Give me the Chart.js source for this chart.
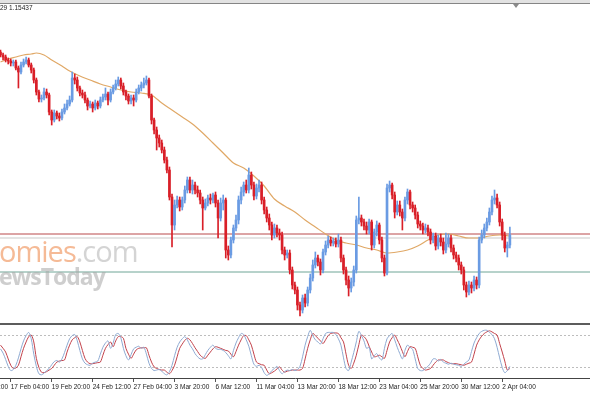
<!DOCTYPE html>
<html lang="en">
<head>
  <meta charset="UTF-8">
  <title>H4 chart with Stochastic</title>
  <script src="https://cdn.jsdelivr.net/npm/chart.js"></script>
  <style>
    body {
      margin: 0;
      width: 590px;
      height: 393px;
      overflow: hidden;
      background: #fff;
      position: relative;
      font-family: 'Liberation Sans Narrow', 'Liberation Sans', sans-serif;
    }
    #main-wrap { position: absolute; left: 0; top: 0; width: 590px; height: 323px; }
    #stoch-wrap { position: absolute; left: 0; top: 325px; width: 590px; height: 68px; }
    #sep { position: absolute; left: 0; top: 323px; width: 590px; height: 2px; background: #5c5c5c; }
    #topbar { position: absolute; left: 0; top: 0; width: 590px; height: 3px; background: #e2e2e2; border-bottom: 1px solid #858585; }
    #shift {
      position: absolute; left: 513px; top: 4px; width: 0; height: 0;
      border-left: 3px solid transparent; border-right: 3px solid transparent; border-top: 4px solid #8a8a8a;
    }
    #readout { position: absolute; left: 0; top: 4px; font-size: 6.5px; color: #222; }
    .wm { position: absolute; left: -1px; line-height: 1; white-space: nowrap; font-family: 'Open Sans', sans-serif; }
    #wm1 { top: 236px; font-size: 29px; letter-spacing: -1px; }
    #wm1 .o { color: rgba(238, 140, 80, 0.6); }
    #wm1 .g { color: rgba(170, 170, 170, 0.5); }
    #wm2 { top: 265px; font-size: 23px; font-weight: bold; letter-spacing: -1px; color: rgba(165, 165, 165, 0.55); }
  </style>
</head>
<body>
  <div id="main-wrap"><canvas id="mainChart"></canvas></div>
  <div id="sep"></div>
  <div id="stoch-wrap"><canvas id="stochChart"></canvas></div>
  <div id="topbar"></div>
  <div id="shift"></div>
  <div id="readout">29 1.15437</div>
  <div class="wm" id="wm1"><span class="o">omies</span><span class="g">.com</span></div>
  <div class="wm" id="wm2">ewsToday</div>

  <script>
    // H4 candles (oldest first)
    const openP = [
      1.1728,1.1725,1.1723,1.1720,1.1719,1.1717,1.1718,1.1712,1.1708,1.1715,
      1.1718,1.1720,1.1715,1.1710,1.1700,1.1688,1.1681,1.1682,1.1688,1.1685,
      1.1668,1.1660,1.1667,1.1664,1.1662,1.1668,1.1672,1.1676,1.1680,1.1702,
      1.1700,1.1692,1.1687,1.1685,1.1680,1.1674,1.1676,1.1672,1.1677,1.1674,
      1.1680,1.1683,1.1686,1.1680,1.1688,1.1692,1.1696,1.1700,1.1694,1.1688,
      1.1684,1.1679,1.1682,1.1680,1.1688,1.1692,1.1695,1.1697,1.1700,1.1684,
      1.1660,1.1650,1.1642,1.1637,1.1630,1.1620,1.1610,1.1583,1.1555,1.1575,
      1.1580,1.1573,1.1580,1.1590,1.1600,1.1590,1.1595,1.1590,1.1587,1.1580,
      1.1572,1.1577,1.1582,1.1580,1.1585,1.1577,1.1562,1.1577,1.1580,1.1530,
      1.1525,1.1540,1.1552,1.1560,1.1580,1.1588,1.1595,1.1590,1.1605,1.1595,
      1.1584,1.1592,1.1595,1.1580,1.1570,1.1562,1.1555,1.1545,1.1552,1.1547,
      1.1545,1.1530,1.1525,1.1527,1.1510,1.1495,1.1490,1.1475,1.1470,1.1482,
      1.1477,1.1490,1.1502,1.1515,1.1522,1.1518,1.1510,1.1528,1.1535,1.1540,
      1.1537,1.1539,1.1536,1.1540,1.1522,1.1510,1.1500,1.1492,1.1498,1.1510,
      1.1560,1.1562,1.1558,1.1554,1.1550,1.1558,1.1535,1.1548,1.1555,1.1540,
      1.1522,1.1507,1.1592,1.1595,1.1585,1.1568,1.1575,1.1568,1.1562,1.1580,
      1.1588,1.1575,1.1572,1.1565,1.1556,1.1554,1.1550,1.1552,1.1548,1.1540,
      1.1544,1.1534,1.1542,1.1538,1.1530,1.1536,1.1542,1.1532,1.1525,1.1522,
      1.1515,1.1510,1.1495,1.1488,1.1495,1.1492,1.1500,1.1495,1.1540,1.1545,
      1.1552,1.1558,1.1568,1.1580,1.1582,1.1575,1.1558,1.1545,1.1532,1.1535
    ];
    const highP = [
      1.1730,1.1727,1.1725,1.1722,1.1721,1.1720,1.1720,1.1714,1.1718,1.1721,
      1.1723,1.1722,1.1717,1.1712,1.1702,1.1690,1.1685,1.1692,1.1691,1.1687,
      1.1670,1.1670,1.1669,1.1667,1.1671,1.1676,1.1680,1.1684,1.1708,1.1706,
      1.1703,1.1694,1.1690,1.1688,1.1682,1.1679,1.1678,1.1680,1.1679,1.1683,
      1.1686,1.1692,1.1688,1.1691,1.1695,1.1700,1.1703,1.1702,1.1697,1.1690,
      1.1686,1.1685,1.1685,1.1691,1.1695,1.1698,1.1702,1.1704,1.1702,1.1686,
      1.1662,1.1653,1.1645,1.1640,1.1633,1.1623,1.1613,1.1586,1.1580,1.1584,
      1.1583,1.1583,1.1594,1.1603,1.1603,1.1600,1.1598,1.1594,1.1590,1.1583,
      1.1581,1.1585,1.1586,1.1587,1.1588,1.1580,1.1582,1.1585,1.1582,1.1534,
      1.1543,1.1555,1.1565,1.1584,1.1593,1.1598,1.1600,1.1612,1.1608,1.1598,
      1.1596,1.1600,1.1598,1.1583,1.1573,1.1566,1.1558,1.1556,1.1555,1.1551,
      1.1548,1.1533,1.1530,1.1530,1.1513,1.1498,1.1493,1.1478,1.1485,1.1486,
      1.1493,1.1506,1.1520,1.1528,1.1525,1.1521,1.1531,1.1539,1.1544,1.1543,
      1.1542,1.1542,1.1546,1.1543,1.1525,1.1513,1.1504,1.1502,1.1514,1.1564,
      1.1583,1.1565,1.1561,1.1558,1.1561,1.1560,1.1551,1.1559,1.1557,1.1543,
      1.1525,1.1596,1.1599,1.1597,1.1588,1.1579,1.1579,1.1571,1.1583,1.1591,
      1.1590,1.1578,1.1575,1.1568,1.1559,1.1557,1.1556,1.1555,1.1551,1.1547,
      1.1547,1.1545,1.1546,1.1542,1.1547,1.1546,1.1545,1.1535,1.1528,1.1525,
      1.1518,1.1513,1.1498,1.1499,1.1498,1.1504,1.1503,1.1543,1.1550,1.1556,
      1.1562,1.1572,1.1584,1.1590,1.1586,1.1578,1.1561,1.1548,1.1538,1.1553
    ];
    const lowP = [
      1.1723,1.1720,1.1718,1.1716,1.1714,1.1714,1.1710,1.1692,1.1706,1.1713,
      1.1716,1.1713,1.1707,1.1697,1.1685,1.1678,1.1678,1.1680,1.1682,1.1665,
      1.1655,1.1658,1.1661,1.1659,1.1660,1.1666,1.1670,1.1674,1.1678,1.1696,
      1.1689,1.1684,1.1682,1.1677,1.1670,1.1672,1.1668,1.1670,1.1671,1.1672,
      1.1678,1.1680,1.1675,1.1678,1.1686,1.1690,1.1694,1.1691,1.1685,1.1680,
      1.1676,1.1676,1.1674,1.1678,1.1686,1.1689,1.1692,1.1695,1.1682,1.1656,
      1.1646,1.1630,1.1633,1.1627,1.1617,1.1607,1.1580,1.1533,1.1550,1.1572,
      1.1569,1.1570,1.1577,1.1587,1.1587,1.1586,1.1586,1.1583,1.1576,1.1550,
      1.1570,1.1574,1.1576,1.1577,1.1573,1.1542,1.1559,1.1570,1.1522,1.1520,
      1.1522,1.1537,1.1549,1.1556,1.1576,1.1584,1.1587,1.1587,1.1591,1.1580,
      1.1581,1.1588,1.1576,1.1566,1.1558,1.1550,1.1540,1.1542,1.1543,1.1540,
      1.1526,1.1520,1.1522,1.1506,1.1491,1.1486,1.1470,1.1464,1.1467,1.1473,
      1.1474,1.1487,1.1499,1.1512,1.1514,1.1505,1.1507,1.1525,1.1532,1.1534,
      1.1534,1.1533,1.1533,1.1518,1.1506,1.1495,1.1484,1.1488,1.1494,1.1507,
      1.1556,1.1554,1.1550,1.1546,1.1546,1.1530,1.1532,1.1544,1.1536,1.1518,
      1.1504,1.1505,1.1588,1.1581,1.1562,1.1565,1.1564,1.1550,1.1559,1.1576,
      1.1571,1.1568,1.1561,1.1552,1.1550,1.1546,1.1547,1.1544,1.1536,1.1537,
      1.1530,1.1531,1.1534,1.1526,1.1527,1.1533,1.1528,1.1521,1.1518,1.1510,
      1.1506,1.1490,1.1483,1.1485,1.1487,1.1489,1.1491,1.1492,1.1537,1.1542,
      1.1549,1.1555,1.1565,1.1576,1.1572,1.1554,1.1540,1.1528,1.1523,1.1532
    ];
    const closeP = [
      1.1725,1.1723,1.1720,1.1719,1.1717,1.1718,1.1712,1.1708,1.1715,1.1718,
      1.1720,1.1715,1.1710,1.1700,1.1688,1.1681,1.1682,1.1688,1.1685,1.1668,
      1.1660,1.1667,1.1664,1.1662,1.1668,1.1672,1.1676,1.1680,1.1702,1.1700,
      1.1692,1.1687,1.1685,1.1680,1.1674,1.1676,1.1672,1.1677,1.1674,1.1680,
      1.1683,1.1686,1.1680,1.1688,1.1692,1.1696,1.1700,1.1694,1.1688,1.1684,
      1.1679,1.1682,1.1680,1.1688,1.1692,1.1695,1.1697,1.1700,1.1684,1.1660,
      1.1650,1.1642,1.1637,1.1630,1.1620,1.1610,1.1583,1.1555,1.1575,1.1580,
      1.1573,1.1580,1.1590,1.1600,1.1590,1.1595,1.1590,1.1587,1.1580,1.1572,
      1.1577,1.1582,1.1580,1.1585,1.1577,1.1562,1.1577,1.1580,1.1530,1.1525,
      1.1540,1.1552,1.1560,1.1580,1.1588,1.1595,1.1590,1.1605,1.1595,1.1584,
      1.1592,1.1595,1.1580,1.1570,1.1562,1.1555,1.1545,1.1552,1.1547,1.1545,
      1.1530,1.1525,1.1527,1.1510,1.1495,1.1490,1.1475,1.1470,1.1482,1.1477,
      1.1490,1.1502,1.1515,1.1522,1.1518,1.1510,1.1528,1.1535,1.1540,1.1537,
      1.1539,1.1536,1.1540,1.1522,1.1510,1.1500,1.1492,1.1498,1.1510,1.1560,
      1.1562,1.1558,1.1554,1.1550,1.1558,1.1535,1.1548,1.1555,1.1540,1.1522,
      1.1507,1.1592,1.1595,1.1585,1.1568,1.1575,1.1568,1.1562,1.1580,1.1588,
      1.1575,1.1572,1.1565,1.1556,1.1554,1.1550,1.1552,1.1548,1.1540,1.1544,
      1.1534,1.1542,1.1538,1.1530,1.1536,1.1542,1.1532,1.1525,1.1522,1.1515,
      1.1510,1.1495,1.1488,1.1495,1.1492,1.1500,1.1495,1.1540,1.1545,1.1552,
      1.1558,1.1568,1.1580,1.1582,1.1575,1.1558,1.1545,1.1532,1.1535,1.1545
    ];

    // moving average, read at a few bars
    const maBars = [0,3,6,9,12,14,17,20,24,27,31,35,39,43,47,51,55,59,63,67,71,75,79,83,87,91,95,99,
      103,107,111,115,119,123,127,131,135,139,143,147,151,155,159,163,167,171,175,179,183,187,191,195,199];
    const maValues = [1.1718,1.1721,1.1723,1.1725,1.1726,1.1727,1.1725,1.1720,1.1714,1.1709,1.1704,1.1700,
      1.1696,1.1693,1.1690,1.1688,1.1687,1.1685,1.1677,1.1670,1.1663,1.1656,1.1647,1.1637,1.1627,1.1617,
      1.1612,1.1604,1.1594,1.1581,1.1574,1.1568,1.1560,1.1553,1.1546,1.1540,1.1537,1.1535,1.1532,1.1530,
      1.1527,1.1528,1.1530,1.1534,1.1540,1.1545,1.1546,1.1544,1.1542,1.1542,1.1544,1.1545,1.1544];

    // horizontal lines: resistance, bid, support
    const hLevels = [1.1546, 1.1542, 1.1508];

    // stochastic oscillator
    const stochMain = [
      55,47,35,22,14,16,24,38,55,70, 80,86,74,45,22,8,6,9,14,18,
      25,31,33,30,36,48,62,74,80,82, 70,52,36,28,25,24,28,30,32,45,
      58,66,70,56,66,82,84,76,56,42, 34,44,55,58,60,56,58,45,28,18,
      14,15,16,13,8,6,12,24,42,58, 68,74,78,72,62,55,46,40,36,36,
      44,52,58,62,56,54,54,52,48,42, 36,52,66,76,84,82,72,60,42,26,
      22,24,20,10,5,8,14,18,22,14, 8,12,15,14,16,14,16,22,40,62,
      78,90,80,72,68,64,74,84,86,86, 86,82,74,62,38,18,14,30,48,68,
      88,80,70,56,58,36,42,46,38,34, 56,74,80,84,72,58,46,36,52,62,
      58,54,36,18,14,14,18,22,28,36, 36,32,35,30,28,26,28,26,25,24,
      22,26,30,34,50,66,76,84,88,90, 90,86,82,74,58,38,20,10,14,22
    ];
    const stochSignal = [
      62,56,49,36,24,18,19,24,40,56, 68,78,81,68,37,20,11,10,12,15,
      18,24,30,32,33,34,49,62,72,76, 78,68,52,37,30,27,27,28,29,30,
      43,56,63,68,59,70,78,78,75,56, 45,37,45,53,56,57,57,57,43,30,
      21,18,16,15,15,11,8,14,24,40, 56,64,71,75,72,65,57,50,43,39,
      37,43,49,55,59,58,56,54,52,51, 45,40,50,62,72,80,80,72,62,45,
      30,27,25,24,15,8,10,13,17,21, 15,11,13,14,15,15,15,15,18,36,
      56,72,84,80,75,70,65,72,80,84, 85,85,84,76,68,45,24,18,28,43,
      63,81,78,72,60,49,40,41,43,40, 37,52,68,76,81,72,62,50,40,50,
      59,58,56,40,24,18,15,16,18,24, 30,34,34,34,31,29,27,27,27,26,
      25,24,26,28,30,45,62,72,79,84, 87,89,87,84,81,65,49,32,15,18
    ];
    const stochLevels = [20, 80];

    // time axis labels and the bar each one sits on
    const tickBars = [-12, 4, 20, 36, 52, 68, 84, 100, 116, 132, 148, 164, 180, 196];
    const tickLabels = ['12 Feb 12:00', '17 Feb 04:00', '19 Feb 20:00', '24 Feb 12:00', '27 Feb 04:00',
      '3 Mar 20:00', '6 Mar 12:00', '11 Mar 04:00', '13 Mar 20:00', '18 Mar 12:00', '23 Mar 04:00',
      '25 Mar 20:00', '30 Mar 12:00', '2 Apr 04:00'];

    const X_MIN = -0.2;
    const X_MAX = 230.3;
    const BULL = '#6a9be3';
    const BEAR = '#d91f28';

    const candleColors = closeP.map((c, i) => c >= openP[i] ? BULL : BEAR);
    const wickData = closeP.map((c, i) => ({ x: i, y: [lowP[i], highP[i]] }));
    const bodyData = closeP.map((c, i) => ({ x: i, y: [openP[i], c] }));
    const maData = maBars.map((b, i) => ({ x: b, y: maValues[i] }));

    function levelLine(v, color) {
      return {
        type: 'line',
        data: [{ x: X_MIN, y: v }, { x: X_MAX, y: v }],
        borderColor: color,
        borderWidth: 1,
        pointRadius: 0,
        order: 5
      };
    }

    // no label padding at the sides, the plot fills the whole width
    function noSidePadding(s) {
      s.paddingLeft = 0;
      s.paddingRight = 0;
    }

    new Chart(document.getElementById('mainChart'), {
      type: 'bar',
      data: {
        datasets: [
          levelLine(hLevels[0], '#b9484a'),
          levelLine(hLevels[1], '#c9c9c9'),
          levelLine(hLevels[2], '#6fa596'),
          {
            type: 'line',
            data: maData,
            borderColor: '#e0a866',
            borderWidth: 1.2,
            pointRadius: 0,
            cubicInterpolationMode: 'monotone',
            order: 4
          },
          {
            data: wickData,
            backgroundColor: candleColors,
            barThickness: 1,
            grouped: false,
            order: 2
          },
          {
            data: bodyData,
            backgroundColor: candleColors,
            barThickness: 2,
            minBarLength: 1,
            grouped: false,
            order: 1
          }
        ]
      },
      options: {
        animation: false,
        responsive: true,
        maintainAspectRatio: false,
        layout: { padding: 0 },
        plugins: { legend: { display: false }, tooltip: { enabled: false } },
        scales: {
          x: { type: 'linear', min: X_MIN, max: X_MAX, offset: false, display: false },
          y: { min: 1.1457, max: 1.1780, display: false }
        }
      }
    });

    const stochX = closeP.map((c, i) => i);

    new Chart(document.getElementById('stochChart'), {
      type: 'line',
      data: {
        datasets: [
          {
            data: stochMain.map((v, i) => ({ x: stochX[i], y: v })),
            borderColor: '#8eaad2',
            borderWidth: 1,
            pointRadius: 0,
            tension: 0.3
          },
          {
            data: stochSignal.map((v, i) => ({ x: stochX[i], y: v })),
            borderColor: '#c2414a',
            borderWidth: 1,
            pointRadius: 0,
            tension: 0.3
          }
        ]
      },
      options: {
        animation: false,
        responsive: true,
        maintainAspectRatio: false,
        layout: { padding: 0 },
        plugins: { legend: { display: false }, tooltip: { enabled: false } },
        scales: {
          x: {
            type: 'linear',
            min: X_MIN,
            max: X_MAX,
            offset: false,
            afterBuildTicks: s => { s.ticks = tickBars.map(v => ({ value: v })); },
            afterFit: s => { s.height = 15; noSidePadding(s); },
            ticks: {
              callback: (v, i) => tickLabels[i],
              align: 'start',
              autoSkip: false,
              maxRotation: 0,
              padding: 1,
              color: '#222',
              font: { size: 6.5, family: "'Liberation Sans Narrow', 'Liberation Sans', sans-serif" }
            },
            grid: { drawOnChartArea: false, tickLength: 4, tickColor: '#555' },
            border: { display: true, color: '#444' }
          },
          y: {
            min: 0,
            max: 100,
            position: 'right',
            afterBuildTicks: s => { s.ticks = stochLevels.map(v => ({ value: v })); },
            afterFit: s => { s.width = 0; s.paddingTop = 0; s.paddingBottom = 0; },
            ticks: { display: false },
            grid: { color: '#bdbdbd', drawTicks: false },
            border: { display: false, dash: [2, 2] }
          }
        }
      }
    });
  </script>
</body>
</html>
